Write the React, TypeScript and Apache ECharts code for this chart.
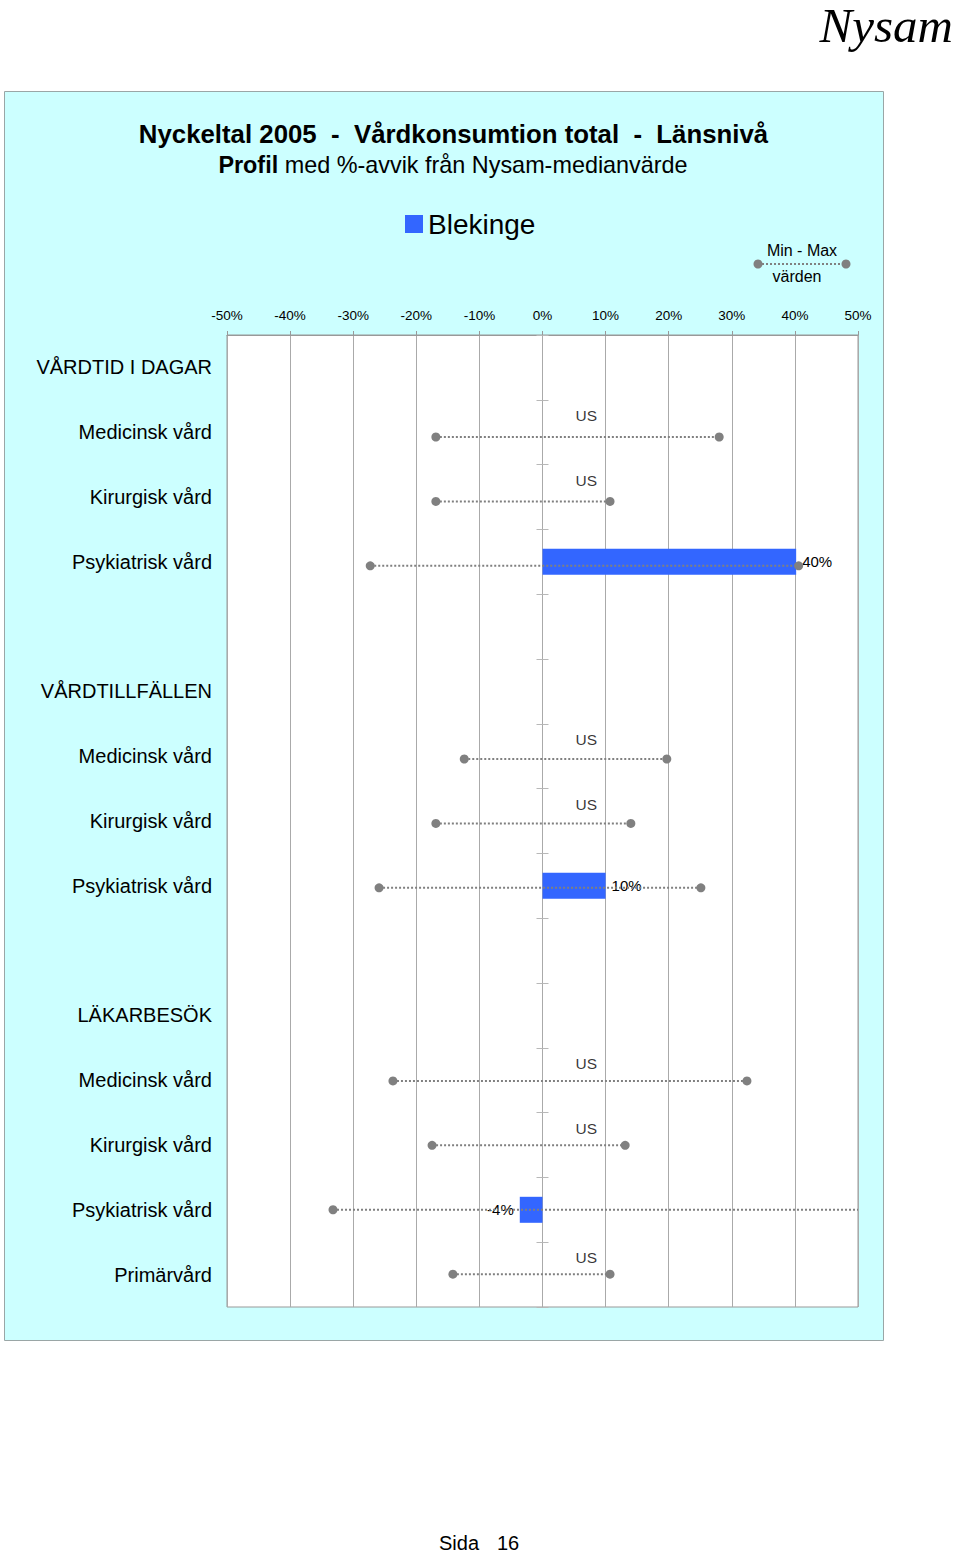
import React, { useEffect, useRef } from 'react';
import * as echarts from 'echarts';

// ---- data ----
const rowLabels = [
  'VÅRDTID I DAGAR', 'Medicinsk vård', 'Kirurgisk vård', 'Psykiatrisk vård', '',
  'VÅRDTILLFÄLLEN', 'Medicinsk vård', 'Kirurgisk vård', 'Psykiatrisk vård', '',
  'LÄKARBESÖK', 'Medicinsk vård', 'Kirurgisk vård', 'Psykiatrisk vård', 'Primärvård',
];
const blekinge: (number | null)[] = [null, null, null, 40.2, null, null, null, null, 10, null, null, null, null, -3.6, null];
const minValues: (number | null)[] = [null, -16.9, -16.9, -27.3, null, null, -12.4, -16.9, -25.9, null, null, -23.7, -17.5, -33.2, -14.2];
const maxValues: (number | null)[] = [null, 28.0, 10.7, 40.6, null, null, 19.7, 14.0, 25.1, null, null, 32.4, 13.1, 56, 10.7];
const usRows = [1, 2, 6, 7, 11, 12, 14];
const seriesName = 'Blekinge';
const titleText = 'Nyckeltal 2005  -  Vårdkonsumtion total  -  Länsnivå';
const subtitleBold = 'Profil';
const subtitleRest = ' med %-avvik från Nysam-medianvärde';

const FONT = 'Liberation Sans, Arial, Helvetica, sans-serif';
const GRAY = '#808080';

export default function App() {
  const ref = useRef<HTMLDivElement>(null);
  useEffect(() => {
    if (!ref.current) return;
    const chart = echarts.init(ref.current, null, { renderer: 'svg' });
    const axisIdx = rowLabels.map((_, i) => String(i));
    const rangeData = minValues
      .map((m, i) => (m == null || maxValues[i] == null ? null : [i, m, maxValues[i]]))
      .filter((d) => d != null);

    const option: any = {
      animation: false,
      backgroundColor: 'transparent',
      textStyle: { fontFamily: FONT },
      legend: {
        data: [seriesName],
        left: 400,
        top: 205,
        icon: 'rect',
        itemWidth: 18,
        itemHeight: 18,
        itemGap: 5,
        textStyle: { fontSize: 28, color: '#000', fontFamily: FONT },
      },
      grid: {
        left: 227, top: 335, width: 631, height: 972,
        show: true, backgroundColor: '#ffffff', borderColor: '#999999', borderWidth: 1,
      },
      xAxis: {
        type: 'value', position: 'top', min: -50, max: 50, interval: 10,
        axisLine: { show: true, onZero: false, lineStyle: { color: '#999999' } },
        axisTick: { show: true, length: 4, lineStyle: { color: '#999999' } },
        axisLabel: { formatter: (v: number) => v + '%', fontSize: 13.5, color: '#000', margin: 13, fontFamily: FONT },
        splitLine: { show: true, lineStyle: { color: '#aaaaaa', width: 1 } },
      },
      yAxis: [
        {
          type: 'category', data: axisIdx, inverse: true, position: 'left',
          axisLine: { show: false, onZero: false }, axisTick: { show: false },
          axisLabel: { formatter: (_v: string, i: number) => rowLabels[i], fontSize: 20, color: '#000', margin: 15, fontFamily: FONT },
          splitLine: { show: false },
        },
        {
          type: 'category', data: axisIdx, inverse: true,
          axisLine: { show: true, onZero: true, onZeroAxisIndex: 0, lineStyle: { color: '#aaaaaa' } },
          axisTick: { show: true, inside: true, length: 6, lineStyle: { color: '#b8b8b8' } },
          axisLabel: { show: false }, splitLine: { show: false },
        },
        {
          type: 'category', data: axisIdx, inverse: true,
          axisLine: { show: true, onZero: true, onZeroAxisIndex: 0, lineStyle: { color: '#aaaaaa' } },
          axisTick: { show: true, inside: false, length: 6, lineStyle: { color: '#b8b8b8' } },
          axisLabel: { show: false }, splitLine: { show: false },
        },
        {
          type: 'value', show: false, inverse: true, min: -0.584, max: 14.51,
          axisLine: { onZero: false }, splitLine: { show: false },
        },
      ],
      series: [
        {
          name: seriesName,
          type: 'bar',
          yAxisIndex: 0,
          barWidth: 26,
          itemStyle: { color: '#3366ff' },
          data: blekinge.map((v) =>
            v == null ? null : { value: v, label: { position: v < 0 ? 'left' : 'right' } }
          ),
          label: {
            show: true, distance: 6, fontSize: 15, color: '#000', fontFamily: FONT,
            formatter: (p: any) => Math.round(p.value) + '%',
          },
          z: 2,
        },
        {
          name: 'Min-Max',
          type: 'custom',
          yAxisIndex: 3,
          encode: { x: [1, 2], y: 0 },
          data: rangeData,
          z: 5,
          renderItem: (params: any, api: any) => {
            const row = api.value(0);
            const lo = api.value(1);
            const hi = api.value(2);
            const a = api.coord([lo, row]);
            const b = api.coord([hi, row]);
            const cs = params.coordSys;
            const left = cs.x;
            const right = cs.x + cs.width;
            const x1 = Math.max(a[0], left);
            const x2 = Math.min(b[0], right);
            const y = a[1];
            const children: any[] = [
              { type: 'line', shape: { x1, y1: y, x2, y2: y }, style: { stroke: GRAY, lineWidth: 2, lineDash: [2, 2] } },
            ];
            if (a[0] >= left - 0.5) children.push({ type: 'circle', shape: { cx: a[0], cy: y, r: 4.5 }, style: { fill: GRAY } });
            if (b[0] <= right + 0.5) children.push({ type: 'circle', shape: { cx: b[0], cy: y, r: 4.5 }, style: { fill: GRAY } });
            return { type: 'group', children };
          },
        },
        {
          name: 'US',
          type: 'scatter',
          yAxisIndex: 0,
          symbolSize: 0,
          data: usRows.map((r) => [0, r]),
          label: {
            show: true, position: 'right', distance: 5, offset: [28, -17],
            formatter: () => 'US', fontSize: 15.5, color: '#000', fontFamily: FONT,
          },
          z: 6,
        },
      ],
      graphic: [
        {
          type: 'rect', z: -100, silent: true,
          shape: { x: 4.5, y: 91.5, width: 879, height: 1249 },
          style: { fill: '#ccffff', stroke: '#9aa6a6', lineWidth: 1 },
        },
        {
          type: 'text', x: 953, y: 25, z: 10,
          style: { text: 'Nysam', fontSize: 49, lineHeight: 44, fontStyle: 'italic', fontFamily: 'Liberation Serif, Times New Roman, serif', fill: '#000', align: 'right', verticalAlign: 'middle' },
        },
        {
          type: 'text', x: 453.5, y: 134, z: 10,
          style: { text: titleText, fontSize: 25.8, fontWeight: 'bold', fontFamily: FONT, fill: '#000', align: 'center', verticalAlign: 'middle' },
        },
        {
          type: 'text', x: 453, y: 165, z: 10,
          style: {
            text: '{b|' + subtitleBold + '}{r|' + subtitleRest + '}',
            align: 'center', verticalAlign: 'middle', fill: '#000',
            rich: {
              b: { fontSize: 23.4, fontWeight: 'bold', fontFamily: FONT, fill: '#000' },
              r: { fontSize: 23.4, fontFamily: FONT, fill: '#000' },
            },
          },
        },
        {
          type: 'text', x: 802, y: 250, z: 10,
          style: { text: 'Min - Max', fontSize: 16, fontFamily: FONT, fill: '#000', align: 'center', verticalAlign: 'middle' },
        },
        {
          type: 'line', z: 10, shape: { x1: 758, y1: 264, x2: 846, y2: 264 },
          style: { stroke: GRAY, lineWidth: 2, lineDash: [2, 2] },
        },
        { type: 'circle', z: 10, shape: { cx: 758, cy: 264, r: 4.5 }, style: { fill: GRAY } },
        { type: 'circle', z: 10, shape: { cx: 846, cy: 264, r: 4.5 }, style: { fill: GRAY } },
        {
          type: 'text', x: 797, y: 276, z: 10,
          style: { text: 'värden', fontSize: 16, fontFamily: FONT, fill: '#000', align: 'center', verticalAlign: 'middle' },
        },
        {
          type: 'text', x: 439, y: 1543, z: 10,
          style: { text: 'Sida', fontSize: 20, lineHeight: 18, fontFamily: FONT, fill: '#000', align: 'left', verticalAlign: 'middle' },
        },
        {
          type: 'text', x: 497, y: 1543, z: 10,
          style: { text: '16', fontSize: 20, lineHeight: 18, fontFamily: FONT, fill: '#000', align: 'left', verticalAlign: 'middle' },
        },
      ],
    };
    chart.setOption(option);
    return () => chart.dispose();
  }, []);
  return <div ref={ref} style={{ position: 'absolute', left: 0, top: 0, width: 960, height: 1554 }} />;
}
